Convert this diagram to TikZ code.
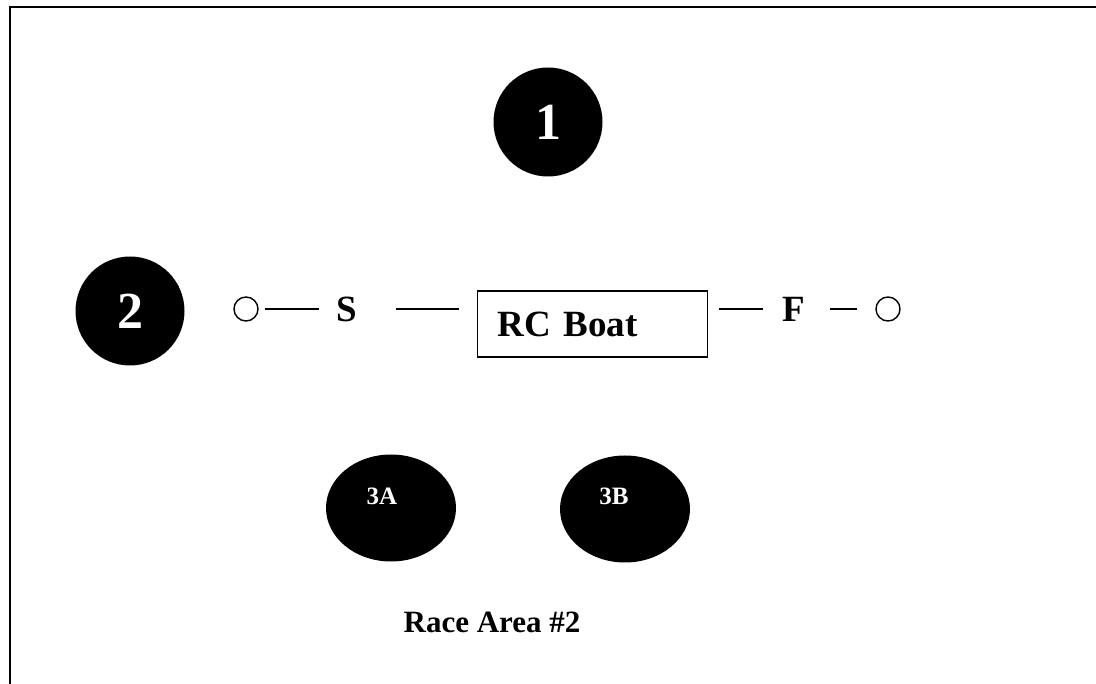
\documentclass[tikz,border=0pt]{standalone}
\usepackage{fontspec}
\setmainfont{Liberation Serif}
\usetikzlibrary{shapes.geometric}

\begin{document}
\begin{tikzpicture}[x=1pt,y=-1pt,
        bigmark/.style = {circle,
            fill=black,
            minimum size = 109pt,
            inner sep=0pt,
            text=white,
            font=\fontsize{52}{56}\selectfont\bfseries},
        buoy/.style = {ellipse,
            fill=black,
            minimum width = 130pt,
            minimum height = 107pt},
        buoytxt/.style = {text=white,
            inner sep=0pt,
            font=\fontsize{25}{28}\selectfont\bfseries},
        pin/.style = {circle,
            draw,
            line width=1.4pt,
            minimum size = 24pt,
            inner sep=0pt},
        lbl/.style = {inner sep=0pt,
            font=\fontsize{37}{40}\selectfont\bfseries},
        link/.style = {line width=1.6pt}]

        \useasboundingbox (0,0) rectangle (1096,684);

        % Frame
        \draw[line width=2.4pt] (10,684) -- (10,7) -- (1096,7);

        % Marks 1 and 2
        \node[bigmark] (M1) at (548,122) {1};
        \node[bigmark] (M2) at (130,311) {2};

        % Start / finish line
        \node[pin] (pinL) at (246,309) {};
        \node[lbl] (S) at (347,309) {S};
        \node[draw,line width=1.4pt,anchor=west,
            text width=190pt,inner xsep=20pt,minimum height=66pt,
            align=left,font=\fontsize{37}{40}\selectfont\bfseries]
            (boat) at (477,324) {RC Boat};
        \node[lbl] (F) at (794,309) {F};
        \node[pin] (pinR) at (888,309) {};

        \draw[link,shorten <=6pt,shorten >=18pt] (pinL.east) -- (S.west);
        \draw[link,shorten <=39pt,shorten >=18pt] (S.east) -- (S.east -| boat.west);
        \draw[link,shorten <=11pt,shorten >=20pt] (boat.east |- F.west) -- (F.west);
        \draw[link,shorten <=24pt,shorten >=18pt] (F.east) -- (pinR.west);

        % Marks 3A and 3B
        \node[buoy] (B3A) at (391,508) {};
        \node[buoytxt] (t3A) at ([shift={(-9,-12)}]B3A.center) {3A};
        \node[buoy] (B3B) at (625,509) {};
        \node[buoytxt] (t3B) at ([shift={(-11,-13)}]B3B.center) {3B};

        % Area label
        \node[inner sep=0pt,font=\fontsize{31}{34}\selectfont\bfseries]
            (area) at (492,622) {Race Area \#2};
    \end{tikzpicture}
\end{document}
